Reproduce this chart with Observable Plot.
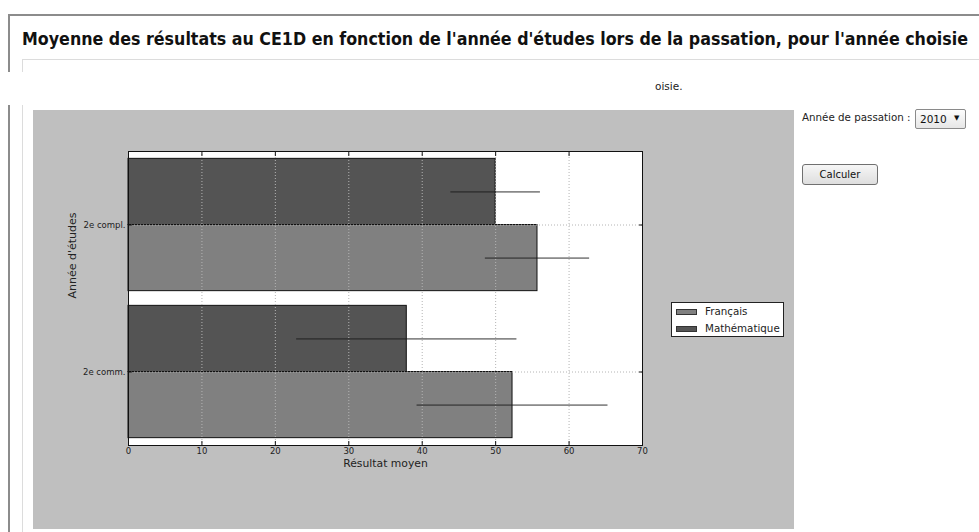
<!DOCTYPE html>
<html>
<head>
<meta charset="utf-8">
<script src="https://cdn.jsdelivr.net/npm/d3@7"></script>
<script src="https://cdn.jsdelivr.net/npm/@observablehq/plot@0.6"></script>
<style>
  html, body { margin: 0; padding: 0; background: #fff; }
  #page { position: relative; width: 979px; height: 532px; overflow: hidden; font-family: "DejaVu Sans", sans-serif; color: #111; }
  .abs { position: absolute; }
  #outer { left: 8px; top: 14px; width: 1000px; height: 600px; border-top: 2px solid #8c8c8c; border-left: 2px solid #8c8c8c; box-sizing: border-box; }
  #inner { left: 22px; top: 59px; width: 1000px; height: 600px; border-top: 1px solid #dcdcdc; border-left: 1px solid #dcdcdc; box-sizing: border-box; }
  #title { left: 22px; top: 29px; font-weight: bold; font-size: 17px; white-space: nowrap; transform-origin: left center; color: #111; }
  #band { left: 0; top: 72px; width: 979px; height: 33px; background: #fff; }
  #oisie { left: 655px; top: 80px; font-size: 10.5px; color: #222; white-space: nowrap; }
  #chart { left: 33px; top: 110px; }
  #legend { left: 671px; top: 302px; width: 113px; height: 35px; background: #fff; border: 1px solid #222; box-sizing: border-box; }
  .lg-row { position: absolute; left: 4px; height: 12px; font-size: 10.3px; color: #222; white-space: nowrap; }
  .lg-sw { position: absolute; left: 0; top: 3px; width: 21px; height: 6px; border: 1px solid #333; box-sizing: border-box; }
  .lg-tx { position: absolute; left: 29px; top: -1px; }
  #lblYear { left: 802px; top: 111px; font-size: 10.3px; color: #222; white-space: nowrap; }
  #select { left: 915px; top: 109px; width: 51px; height: 20px; border: 1px solid #8a8a8a; border-radius: 2px; box-sizing: border-box; background: linear-gradient(#fdfdfd, #e6e6e6); font-size: 10.5px; color: #111; }
  #select .v { position: absolute; left: 4px; top: 3px; }
  #select .arr { position: absolute; left: 38px; top: 4px; font-size: 7px; }
  #btn { left: 802px; top: 164px; width: 76px; height: 21px; border: 1px solid #707070; border-radius: 3px; box-sizing: border-box; background: linear-gradient(#f6f6f6, #dedede); font-size: 10px; color: #111; text-align: center; line-height: 19px; }
</style>
</head>
<body>
<div id="page">
  <div id="outer" class="abs"></div>
  <div id="inner" class="abs"></div>
  <div id="title" class="abs">Moyenne des résultats au CE1D en fonction de l'année d'études lors de la passation, pour l'année choisie</div>
  <div id="band" class="abs"></div>
  <div id="oisie" class="abs">oisie.</div>
  <div id="chart" class="abs"></div>
  <div id="legend" class="abs"></div>
  <div id="lblYear" class="abs">Année de passation :</div>
  <div id="select" class="abs"><span class="v">2010</span><span class="arr">▼</span></div>
  <div id="btn" class="abs">Calculer</div>
</div>
<script>
// ---- data ----
const categories = ["2e comm.", "2e compl."];           // y positions 0 and 1 (bottom to top)
const series = ["Français", "Mathématique"];
const seriesColors = ["#808080", "#545454"];
const francais = [52.3, 55.7];
const francaisErr = [13.0, 7.1];
const mathematique = [37.9, 50.0];
const mathematiqueErr = [15.0, 6.1];
const xTicks = [0, 10, 20, 30, 40, 50, 60, 70];
const yearValue = "2010";

// ---- layout constants ----
const BAR_H = 0.45;

const rows = [];
categories.forEach((c, i) => {
  rows.push({cat: c, serie: series[0], v: francais[i], e: francaisErr[i], y1: i - BAR_H, y2: i});
  rows.push({cat: c, serie: series[1], v: mathematique[i], e: mathematiqueErr[i], y1: i, y2: i + BAR_H});
});
const yIdx = categories.map((c, i) => i);

const gridStyle = {stroke: "#b4b4b4", strokeOpacity: 1, strokeWidth: 1, strokeDasharray: "1,2"};

const chart = Plot.plot({
  width: 761,
  height: 419,
  marginLeft: 95,
  marginRight: 152,
  marginTop: 41,
  marginBottom: 84,
  style: {background: "#bfbfbf", fontFamily: "DejaVu Sans", fontSize: "8.5px", color: "#222"},
  x: {domain: [0, 70], label: null},
  y: {domain: [-0.5, 1.5], label: null},
  color: {domain: series, range: seriesColors},
  marks: [
    Plot.frame({fill: "white", stroke: null}),
    Plot.rect(rows, {x1: 0, x2: "v", y1: "y1", y2: "y2", fill: "serie", stroke: "#111", strokeWidth: 1}),
    Plot.gridX(xTicks.slice(1, -1), gridStyle),
    Plot.gridY(yIdx, gridStyle),
    Plot.ruleY(rows, {y: d => (d.y1 + d.y2) / 2, x1: d => d.v - d.e, x2: d => d.v + d.e, stroke: "#1a1a1a", strokeWidth: 0.9}),
    Plot.axisX(xTicks, {anchor: "bottom", tickSize: -4, tickPadding: 6, stroke: "#111", fill: "#222", label: null}),
    Plot.axisX(xTicks, {anchor: "top", tickSize: -4, tickFormat: () => "", stroke: "#111", label: null}),
    Plot.axisY(yIdx, {anchor: "left", tickSize: -4, tickPadding: 7, tickFormat: i => categories[i], stroke: "#111", fill: "#222", label: null}),
    Plot.axisY(yIdx, {anchor: "right", tickSize: -4, tickFormat: () => "", stroke: "#111", label: null}),
    Plot.frame({stroke: "#111", strokeWidth: 1}),
    Plot.text(["Résultat moyen"], {frameAnchor: "bottom", dy: 21, fontSize: 10.8, fill: "#222"}),
    Plot.text(["Année d'études"], {frameAnchor: "left", dx: -56, rotate: -90, fontSize: 11, fill: "#222"})
  ]
});
document.getElementById("chart").appendChild(chart);

// legend
const legend = document.getElementById("legend");
series.forEach((s, i) => {
  const row = document.createElement("div");
  row.className = "lg-row";
  row.style.top = (3 + i * 17) + "px";
  const sw = document.createElement("div");
  sw.className = "lg-sw";
  sw.style.background = seriesColors[i];
  const tx = document.createElement("div");
  tx.className = "lg-tx";
  tx.textContent = s;
  row.appendChild(sw); row.appendChild(tx);
  legend.appendChild(row);
});
document.querySelector("#select .v").textContent = yearValue;

// fit title width to the reference
function fit(el, target) {
  const w = el.getBoundingClientRect().width;
  if (w > 0) el.style.transform = `scaleX(${target / w})`;
}
fit(document.getElementById("title"), 946);
</script>
</body>
</html>
